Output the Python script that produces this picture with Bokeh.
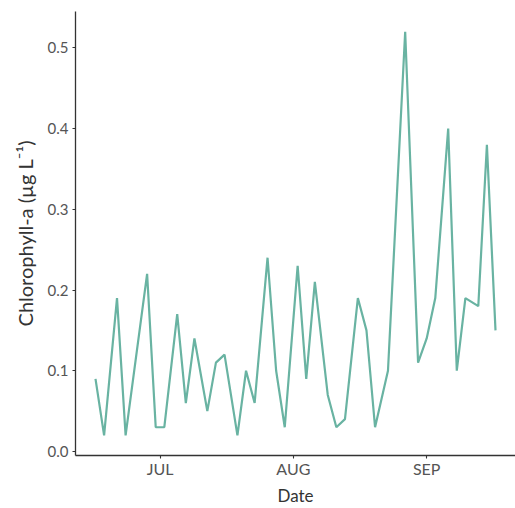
from datetime import datetime

from bokeh.embed import file_html
from bokeh.models import ColumnDataSource, FixedTicker, Range1d, Title
from bokeh.plotting import figure
from bokeh.resources import INLINE

# Sampling dates and chlorophyll-a concentrations (µg L-1)
dates = [
    "2021-06-16", "2021-06-18", "2021-06-21", "2021-06-23", "2021-06-28",
    "2021-06-30", "2021-07-02", "2021-07-05", "2021-07-07", "2021-07-09",
    "2021-07-12", "2021-07-14", "2021-07-16", "2021-07-19", "2021-07-21",
    "2021-07-23", "2021-07-26", "2021-07-28", "2021-07-30", "2021-08-02",
    "2021-08-04", "2021-08-06", "2021-08-09", "2021-08-11", "2021-08-13",
    "2021-08-16", "2021-08-18", "2021-08-20", "2021-08-23", "2021-08-27",
    "2021-08-30", "2021-09-01", "2021-09-03", "2021-09-06", "2021-09-08",
    "2021-09-10", "2021-09-13", "2021-09-15", "2021-09-17",
]
chla = [
    0.09, 0.02, 0.19, 0.02, 0.22,
    0.03, 0.03, 0.17, 0.06, 0.14,
    0.05, 0.11, 0.12, 0.02, 0.10,
    0.06, 0.24, 0.10, 0.03, 0.23,
    0.09, 0.21, 0.07, 0.03, 0.04,
    0.19, 0.15, 0.03, 0.10, 0.52,
    0.11, 0.14, 0.19, 0.40, 0.10,
    0.19, 0.18, 0.38, 0.15,
]

month_ticks = ["2021-07-01", "2021-08-01", "2021-09-01"]
month_labels = ["JUL", "AUG", "SEP"]
y_ticks = [0.0, 0.1, 0.2, 0.3, 0.4, 0.5]

FONT = "Lato"
LINE_COLOR = "#69b3a2"


def to_ms(s):
    return datetime.strptime(s, "%Y-%m-%d").timestamp() * 1000.0


x = [datetime.strptime(d, "%Y-%m-%d") for d in dates]
src = ColumnDataSource(data=dict(date=x, chla=chla))

# 5% padding around the data on both axes
x0, x1 = to_ms(dates[0]), to_ms(dates[-1])
xpad = (x1 - x0) * 0.05
ymin, ymax = min(chla), max(chla)
ypad = (ymax - ymin) * 0.05

p = figure(
    width=515,
    height=508,
    x_axis_type="datetime",
    x_range=Range1d(x0 - xpad, x1 + xpad),
    y_range=Range1d(-0.005, ymax + ypad),
    output_backend="svg",
    toolbar_location=None,
    min_border_left=75,
    min_border_right=0,
    min_border_top=11,
    min_border_bottom=51,
)

p.line("date", "chla", source=src, line_color=LINE_COLOR, line_width=2.2)

# Classic look: only left and bottom axis lines, no grid or frame
p.xgrid.visible = False
p.ygrid.visible = False
p.outline_line_color = None
p.background_fill_color = "white"
p.border_fill_color = "white"

tick_ms = [to_ms(t) for t in month_ticks]
p.xaxis.ticker = FixedTicker(ticks=tick_ms)
p.xaxis.major_label_overrides = {t: lab for t, lab in zip(tick_ms, month_labels)}
p.yaxis.ticker = FixedTicker(ticks=y_ticks)
p.yaxis.major_label_overrides = {t: f"{t:.1f}" for t in y_ticks}

p.xaxis.axis_label = "Date"

for ax in (p.xaxis, p.yaxis):
    ax.axis_line_color = "#333333"
    ax.axis_line_width = 1.3
    ax.major_tick_line_color = "#333333"
    ax.major_tick_line_width = 1.1
    ax.major_tick_in = 0
    ax.major_tick_out = 3
    ax.minor_tick_line_color = None
    ax.major_label_text_font = FONT
    ax.major_label_text_color = "#555555"
    ax.axis_label_text_font = FONT
    ax.axis_label_text_font_size = "17px"
    ax.axis_label_text_font_style = "normal"
    ax.axis_label_text_color = "#333333"

p.xaxis.major_label_text_font_size = "16px"
p.yaxis.major_label_text_font_size = "15px"
p.xaxis.major_label_standoff = 0
p.xaxis.axis_label_standoff = 4
p.yaxis.major_label_standoff = 4

# Y-axis title as a side title, nudged towards the top of the frame
ytitle = Title(
    text="Chlorophyll-a (µg L⁻¹)", align="center", offset=38, standoff=16,
    text_font=FONT, text_font_size="20px", text_font_style="normal",
    text_color="#333333",
)
p.add_layout(ytitle, "left")

open("out.html", "w").write(file_html(p, INLINE))
